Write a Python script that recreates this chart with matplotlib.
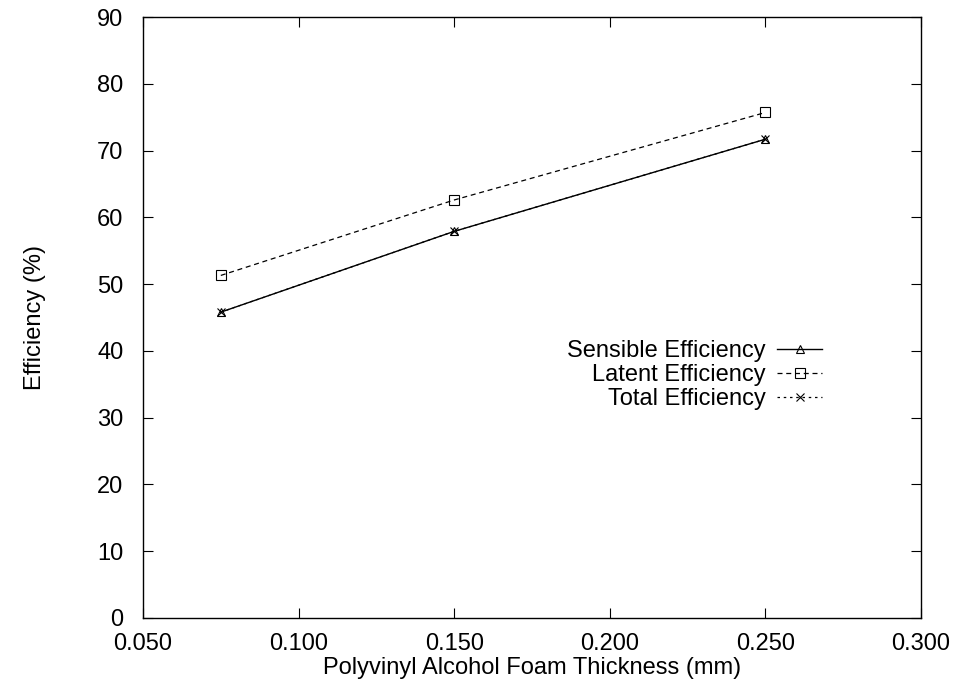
import matplotlib
matplotlib.use("Agg")
import matplotlib.pyplot as plt

plt.rcParams['font.family'] = ['Liberation Sans', 'DejaVu Sans']

# data
thickness = [0.075, 0.150, 0.250]
sensible = [45.8, 57.9, 71.7]
latent = [51.3, 62.6, 75.7]
total = [45.8, 57.9, 71.7]

xticks = [0.05, 0.10, 0.15, 0.20, 0.25, 0.30]
yticks = list(range(0, 91, 10))

fig = plt.figure(figsize=(9.59, 6.81), dpi=100)
ax = fig.add_axes([143 / 959, 1 - 618 / 681, (921 - 143) / 959, (618 - 17) / 681])

ax.plot(thickness, sensible, color='black', lw=1.0, ls='-', marker='^',
        ms=6, mfc='none', mew=0.8, label='Sensible Efficiency')
ax.plot(thickness, latent, color='black', lw=0.9, ls=(0, (4, 3)), marker='s',
        ms=7, mfc='none', mew=0.8, label='Latent Efficiency')
ax.plot(thickness, total, color='black', lw=0.9, ls=(0, (2, 3)), marker='x',
        ms=6, mew=0.8, label='Total Efficiency')

ax.set_xlim(0.05, 0.30)
ax.set_ylim(0, 90)
ax.set_xticks(xticks)
ax.set_xticklabels([f"{t:.3f}" for t in xticks])
ax.set_yticks(yticks)
ax.tick_params(direction='in', length=7, width=0.8, top=True, right=True,
               labelsize=17)
ax.tick_params(axis='y', pad=14)
ax.tick_params(axis='x', pad=11)
for s in ax.spines.values():
    s.set_linewidth(1.0)

ax.set_xlabel('Polyvinyl Alcohol Foam Thickness (mm)', fontsize=17, labelpad=1)
ax.set_ylabel('Efficiency (%)', fontsize=17, labelpad=37)

ax.legend(loc='center right', bbox_to_anchor=(0.873, 0.404), frameon=False,
          markerfirst=False, fontsize=17, handlelength=1.9, handletextpad=0.5,
          labelspacing=0.09, borderpad=0, borderaxespad=0)

fig.savefig('out.png', dpi=100)
